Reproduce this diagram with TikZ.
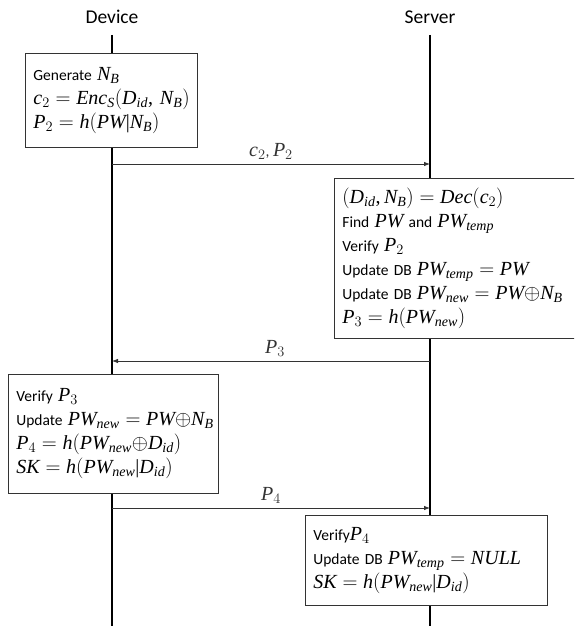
\documentclass[tikz,border=0pt]{standalone}
\usepackage{fontspec}
\setmainfont{Carlito}
\newfontfamily\mathletfont{Liberation Serif}[NFSSFamily=libsermath]
\DeclareSymbolFont{libletters}{TU}{libsermath}{m}{it}
\DeclareSymbolFont{librm}{TU}{libsermath}{m}{n}
\newcommand\mlet[1]{\DeclareMathSymbol{#1}{\mathalpha}{libletters}{`#1}}
\newcommand\mdig[1]{\DeclareMathSymbol{#1}{\mathalpha}{librm}{`#1}}
\mlet a\mlet b\mlet c\mlet d\mlet e\mlet f\mlet g\mlet h\mlet i\mlet j\mlet k\mlet l\mlet m
\mlet n\mlet o\mlet p\mlet q\mlet r\mlet s\mlet t\mlet u\mlet v\mlet w\mlet x\mlet y\mlet z
\mlet A\mlet B\mlet C\mlet D\mlet E\mlet F\mlet G\mlet H\mlet I\mlet J\mlet K\mlet L\mlet M
\mlet N\mlet O\mlet P\mlet Q\mlet R\mlet S\mlet T\mlet U\mlet V\mlet W\mlet X\mlet Y\mlet Z
\mdig 0\mdig 1\mdig 2\mdig 3\mdig 4\mdig 5\mdig 6\mdig 7\mdig 8\mdig 9
\DeclareMathSymbol{(}{\mathopen}{librm}{`(}
\DeclareMathSymbol{)}{\mathclose}{librm}{`)}
\DeclareMathSymbol{=}{\mathrel}{librm}{`=}
\DeclareMathSymbol{|}{\mathord}{librm}{`|}
\DeclareMathSymbol{,}{\mathpunct}{librm}{`,}
\DeclareMathSizes{15.5}{20}{14}{10}
\newcommand\bline[1]{\mbox{#1}}
\usetikzlibrary{arrows.meta}
\begin{document}
\begin{tikzpicture}[x=1pt,y=-1pt,
  lifeline/.style={line width=1.5pt,black},
  msg/.style={line width=0.8pt,black!80,-{Latex[length=6pt,width=4.5pt]}},
  title/.style={font=\fontsize{19.5}{22}\selectfont,inner sep=0pt},
  pbox/.style={draw=black!80,line width=0.8pt,fill=white,anchor=north west,align=left,
    inner xsep=8pt,inner ysep=0pt,font=\fontsize{15.5}{24}\selectfont},
  lbl/.style={font=\fontsize{15.5}{18}\selectfont,inner sep=4pt,anchor=south}]
\clip (0,0) rectangle (574,626);
\useasboundingbox (0,0) rectangle (574,626);
\node[title] (dev) at (112,17) {Device};
\node[title] (srv) at (430,17) {Server};
\coordinate (dtop) at (112,35);
\coordinate (dbot) at (112,626);
\coordinate (stop) at (430,35);
\coordinate (sbot) at (430,626);
\draw[lifeline] (dtop) -- (dbot);
\draw[lifeline] (stop) -- (sbot);
% boxes
\node[pbox,text width=156pt,minimum height=94pt] (b1) at (25,53)
 {\bline{Generate $N_B$}\\ \bline{$c_2 = Enc_S(D_{id},\, N_B)$}\\ \bline{$P_2 = h(PW|N_B)$}};
\node[pbox,text width=234pt,minimum height=160pt] (b2) at (334,178)
 {\bline{$(D_{id}, N_B) = Dec(c_2)$}\\ \bline{Find $PW$ and $PW_{temp}$}\\ \bline{Verify $P_2$}\\
  \bline{Update DB $PW_{temp} = PW$}\\ \bline{Update DB $PW_{new} = PW{\oplus}N_B$}\\ \bline{$P_3 = h(PW_{new})$}};
\node[pbox,text width=194pt,minimum height=119pt] (b3) at (8,374)
 {\bline{Verify $P_3$}\\ \bline{Update $PW_{new} = PW{\oplus}N_B$}\\ \bline{$P_4 = h(PW_{new}{\oplus}D_{id})$}\\ \bline{$SK = h(PW_{new}|D_{id})$}};
\node[pbox,text width=226pt,minimum height=90pt] (b4) at (305,515)
 {\bline{Verify$P_4$}\\ \bline{Update DB $PW_{temp} = NULL$}\\ \bline{$SK = h(PW_{new}|D_{id})$}};
% messages
\coordinate (m1a) at (112,164); \coordinate (m1b) at (430,164);
\coordinate (m2a) at (430,361); \coordinate (m2b) at (112,361);
\coordinate (m3a) at (112,508); \coordinate (m3b) at (430,508);
\draw[msg] (m1a) -- node[lbl] (l1) {$c_2$, $P_2$} (m1b);
\draw[msg] (m2a) -- node[lbl,xshift=4pt] (l2) {$P_3$} (m2b);
\draw[msg] (m3a) -- node[lbl] (l3) {$P_4$} (m3b);
\end{tikzpicture}
\end{document}
